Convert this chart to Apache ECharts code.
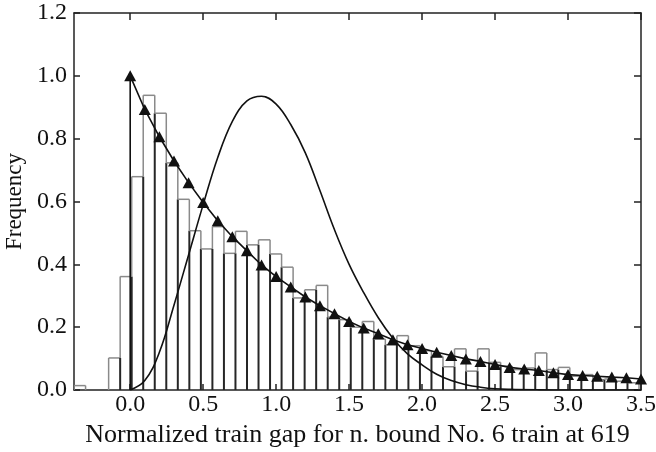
<!DOCTYPE html>
<html>
<head>
<meta charset="utf-8">
<script src="https://cdn.jsdelivr.net/npm/echarts@6/dist/echarts.min.js"></script>
<style>
  html, body { margin: 0; padding: 0; background: #fff; }
  #chart { width: 656px; height: 452px; }
</style>
</head>
<body>
<div id="chart"></div>
<script>
// histogram: bin edges start at binStart, width binWidth
const binStart = -0.3847;
const binWidth = 0.079;
const histValues = [
  0.014, 0, 0, 0.102, 0.361,
  0.679, 0.938, 0.881, 0.723, 0.607, 0.507, 0.449, 0.52, 0.435, 0.505,
  0.462, 0.478, 0.433, 0.391, 0.293, 0.319, 0.333, 0.232, 0.224, 0.20,
  0.218, 0.162, 0.144, 0.173, 0.141, 0.125, 0.107, 0.074, 0.131, 0.06,
  0.131, 0.088, 0.076, 0.065, 0.07, 0.118, 0.065, 0.072, 0.044, 0.049,
  0.033, 0.035, 0.028, 0.023
];

// exponential fit, triangles every 0.1
const expX = [0, 0.1, 0.2, 0.3, 0.4, 0.5, 0.6, 0.7, 0.8, 0.9, 1.0, 1.1, 1.2, 1.3, 1.4, 1.5, 1.6, 1.7,
  1.8, 1.9, 2.0, 2.1, 2.2, 2.3, 2.4, 2.5, 2.6, 2.7, 2.8, 2.9, 3.0, 3.1, 3.2, 3.3, 3.4, 3.5];
const expY = [1.0, 0.893, 0.806, 0.729, 0.66, 0.597, 0.539, 0.488, 0.443, 0.398, 0.361, 0.328, 0.296,
  0.268, 0.243, 0.218, 0.197, 0.179, 0.16, 0.144, 0.132, 0.12, 0.11, 0.099, 0.091, 0.081, 0.072,
  0.067, 0.062, 0.055, 0.049, 0.046, 0.044, 0.041, 0.039, 0.035];

// bell shaped fit curve
const bellX = [0, 0.1, 0.2, 0.3, 0.4, 0.5, 0.6, 0.7, 0.8, 0.9, 1.0, 1.1, 1.2, 1.3, 1.4, 1.5, 1.6, 1.7,
  1.8, 1.9, 2.0, 2.1, 2.2, 2.3, 2.4, 2.5, 2.6, 2.8, 3.0, 3.5];
const bellY = [0, 0.03, 0.12, 0.27, 0.43, 0.59, 0.74, 0.855, 0.92, 0.935, 0.91, 0.845, 0.755, 0.635, 0.51,
  0.40, 0.31, 0.23, 0.165, 0.115, 0.08, 0.05, 0.03, 0.017, 0.009, 0.004, 0.002, 0.0005, 0, 0];

const xTicks = [0, 0.5, 1.0, 1.5, 2.0, 2.5, 3.0, 3.5];

const histData = histValues.map((v, i) => [binStart + i * binWidth, v, i]);
const expData = [{ value: [0, 0], symbol: 'none' }].concat(expX.map((x, i) => [x, expY[i]]));
const bellData = bellX.map((x, i) => [x, bellY[i]]);

const font = 'Liberation Serif';
const frame = '#222';

function renderBin(params, api) {
  const i = params.dataIndex;
  const h = histValues[i];
  const prev = i > 0 ? histValues[i - 1] : 0;
  const x0 = binStart + i * binWidth;
  const x1 = x0 + binWidth;
  const children = [];
  const gray = { stroke: '#8a8a8a', lineWidth: 1.5 };
  const dark = { stroke: '#262626', lineWidth: 2 };
  const seg = (a, b, style) => {
    children.push({ type: 'line', shape: { x1: a[0], y1: a[1], x2: b[0], y2: b[1] }, style: style });
  };
  // left edge shared with previous bin
  const lo = Math.min(h, prev), hi = Math.max(h, prev);
  if (lo > 0) seg(api.coord([x0, 0]), api.coord([x0, lo]), dark);
  if (hi > lo) seg(api.coord([x0, lo]), api.coord([x0, hi]), gray);
  if (h > 0) seg(api.coord([x0, h]), api.coord([x1, h]), gray);
  if (i === histValues.length - 1 && h > 0) seg(api.coord([x1, 0]), api.coord([x1, h]), gray);
  return { type: 'group', children: children };
}

const chart = echarts.init(document.getElementById('chart'));
chart.setOption({
  animation: false,
  grid: { left: 74, right: 15, top: 13, bottom: 62, outerBoundsMode: 'none', containLabel: false },
  xAxis: [
    {
      type: 'value', min: -0.385, max: 3.5, position: 'bottom',
      name: 'Normalized train gap for n. bound No. 6 train at 619',
      nameLocation: 'middle', nameGap: 29,
      nameTextStyle: { fontFamily: font, fontSize: 26, color: '#111' },
      axisLine: { onZero: false, lineStyle: { color: frame, width: 1.5 } },
      axisTick: { inside: true, length: 6, customValues: xTicks, lineStyle: { color: frame, width: 1.5 } },
      axisLabel: { customValues: xTicks, formatter: v => v.toFixed(1), fontFamily: font, fontSize: 24, color: '#111', margin: 3 },
      splitLine: { show: false }
    },
    {
      type: 'value', min: -0.385, max: 3.5, position: 'top',
      axisLine: { onZero: false, lineStyle: { color: frame, width: 1.5 } },
      axisTick: { inside: true, length: 7, customValues: xTicks, lineStyle: { color: frame, width: 1.5 } },
      axisLabel: { show: false },
      splitLine: { show: false }
    }
  ],
  yAxis: [
    {
      type: 'value', min: 0, max: 1.2, interval: 0.2, position: 'left',
      name: 'Frequency', nameLocation: 'middle', nameGap: 45,
      nameTextStyle: { fontFamily: font, fontSize: 23, color: '#111' },
      axisLine: { show: true, onZero: false, lineStyle: { color: frame, width: 1.5 } },
      axisTick: { show: true, inside: true, length: 6, lineStyle: { color: frame, width: 1.5 } },
      axisLabel: { formatter: v => v.toFixed(1), fontFamily: font, fontSize: 24, color: '#111', margin: 7 },
      splitLine: { show: false }
    },
    {
      type: 'value', min: 0, max: 1.2, interval: 0.2, position: 'right',
      axisLine: { show: true, onZero: false, lineStyle: { color: frame, width: 1.5 } },
      axisTick: { show: true, inside: true, length: 7, lineStyle: { color: frame, width: 1.5 } },
      axisLabel: { show: false },
      splitLine: { show: false }
    }
  ],
  series: [
    {
      type: 'custom',
      data: histData,
      renderItem: renderBin,
      clip: true,
      z: 1
    },
    {
      type: 'line',
      data: bellData,
      smooth: 0.4,
      symbol: 'none',
      lineStyle: { color: '#111', width: 1.6 },
      z: 3
    },
    {
      type: 'line',
      data: expData,
      symbol: 'triangle',
      symbolSize: [12, 11],
      itemStyle: { color: '#111' },
      lineStyle: { color: '#111', width: 1.6 },
      z: 4
    }
  ]
});
</script>
</body>
</html>
